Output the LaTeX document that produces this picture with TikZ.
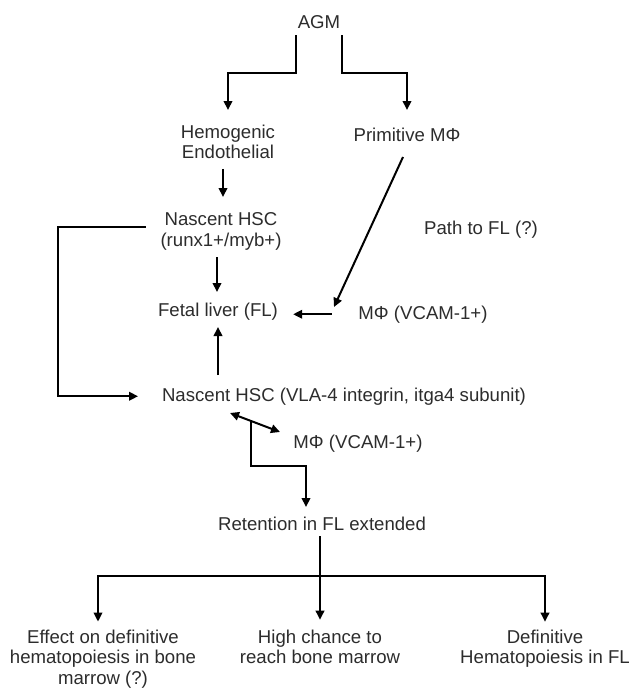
\documentclass[tikz,border=0pt]{standalone}
\usepackage{fontspec}
\setmainfont{Liberation Sans}
\usetikzlibrary{arrows.meta,calc}
\definecolor{txt}{HTML}{2C2C2C}
\begin{document}
\begin{tikzpicture}[x=1pt,y=-1pt,
  lbl/.style={inner sep=0pt, outer sep=0pt, text=txt, font=\fontsize{18.6}{20.5}\selectfont, text height=13.5pt, text depth=4pt, anchor=base},
  mlbl/.style={inner sep=0pt, outer sep=0pt, text=txt, font=\fontsize{18.6}{20.5}\selectfont, align=center, anchor=north},
  arr/.style={line width=2pt, -{Triangle[length=9pt,width=8.5pt]}},
  darr/.style={line width=2pt, {Triangle[length=9pt,width=8.5pt]}-{Triangle[length=9pt,width=8.5pt]}}]
\useasboundingbox (0,0) rectangle (635,688);

\node[lbl] (agm) at (319,28) {AGM};
\node[mlbl] (hemo) at (228,124.7) {Hemogenic\\Endothelial};
\node[lbl] (prim) at (407,141) {Primitive MΦ};
\node[mlbl] (nhsc1) at (221,212.7) {Nascent HSC\\(runx1+/myb+)};
\node[lbl] (path) at (481,234) {Path to FL (?)};
\node[lbl] (fl) at (218,316) {Fetal liver (FL)};
\node[lbl] (mac1) at (423,319) {MΦ (VCAM-1+)};
\node[lbl] (nhsc2) at (344,401) {Nascent HSC (VLA-4 integrin, itga4 subunit)};
\node[lbl] (mac2) at (358,448) {MΦ (VCAM-1+)};
\node[lbl] (ret) at (322,530) {Retention in FL extended};
\node[mlbl] (eff) at (103,629.6) {Effect on definitive\\hematopoiesis in bone\\marrow (?)};
\node[mlbl] (high) at (320,629.7) {High chance to\\reach bone marrow};
\node[mlbl] (def) at (545,629.7) {Definitive\\Hematopoiesis in FL};

% AGM branches
\draw[arr, shorten <=3pt, shorten >=14.7pt] ([xshift=-2pt]agm.south west) -- ++(0,41) -| (hemo);
\draw[arr, shorten <=3pt, shorten >=17.5pt] ([xshift=2pt]agm.south east) -- ++(0,41) -| (prim);

% left column
\draw[arr, shorten <=10pt, shorten >=15.7pt] ([xshift=-5pt]hemo.south) -- ([xshift=-5pt]hemo.south |- nhsc1.north);
\draw[arr, shorten <=7pt, shorten >=10.5pt] ([xshift=-4pt]nhsc1.south) -- ([xshift=-4pt]nhsc1.south |- fl.north);

% primitive macrophage path
\draw[arr] ([xshift=-4pt,yshift=-12pt]prim.south) -- ([xshift=-24.5pt,yshift=-1.5pt]mac1.north west);
\draw[arr, shorten <=26.5pt, shorten >=15.2pt] (mac1.west) -- (mac1.west -| fl.east);

% up arrow
\draw[arr, shorten <=12.5pt, shorten >=7pt] (fl.south |- nhsc2.north) -- (fl.south);

% bracket
\draw[arr, shorten <=15pt, shorten >=24pt] ([yshift=4pt]nhsc1.west) -- ++(-103,0) |- (nhsc2);

% interaction
\draw[darr] ([xshift=68pt,yshift=-8pt]nhsc2.south west) -- ([xshift=-13.5pt,yshift=2.5pt]mac2.north west) coordinate[pos=0.41] (j);
\draw[arr, shorten >=9.5pt] (j) -- ++(0,45) -| ([xshift=-16pt]ret.north);

% bottom tree
\coordinate (j2) at ($(ret.south -| high.north)+(0,42)$);
\draw[arr, shorten <=2pt, shorten >=10pt] (ret.south -| high.north) -- (high.north);
\draw[arr, shorten >=8pt] (j2) -| ([xshift=-5pt]eff.north);
\draw[arr, shorten >=8pt] (j2) -| (def);
\end{tikzpicture}
\end{document}
